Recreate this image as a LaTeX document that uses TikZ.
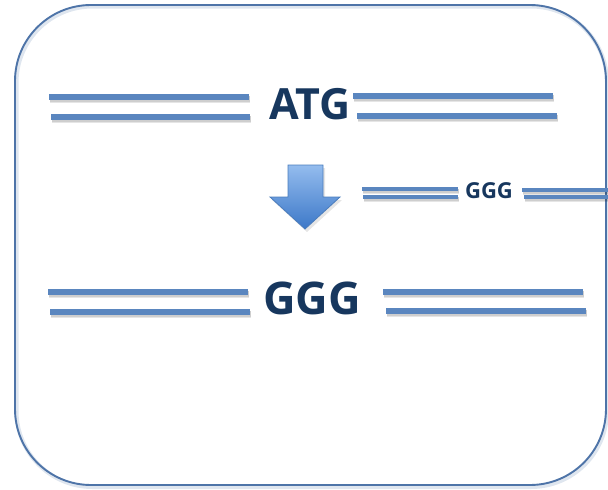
\documentclass[tikz,border=0pt]{standalone}
\usepackage{fontspec}
\setmainfont{Open Sans}

\definecolor{strand}{HTML}{5A86BF}
\definecolor{framecol}{HTML}{4E74A8}
\definecolor{basecol}{HTML}{17375E}
\definecolor{arrowtop}{HTML}{94BCEE}
\definecolor{arrowbot}{HTML}{3C78C8}
\definecolor{arrowedge}{HTML}{4A7CBC}

\tikzset{
  strandline/.style={line width=#1, draw=strand},
  strandshade/.style={line width=#1, draw=black, opacity=0.10},
  basetext/.style={inner sep=0pt, text=basecol, font=\bfseries\fontsize{#1}{#1}\selectfont},
}

% one strand of the double line, with its soft drop shadow
\newcommand\dnastrand[4]{%
  \draw[strandshade=#4+1.5pt] (#1+1,#3+2.5) -- (#2+1,#3+2.5);
  \draw[strandshade=#4] (#1+1,#3+2) -- (#2+1,#3+2);
  \draw[strandline=#4] (#1,#3) -- (#2,#3);
}

\begin{document}
\begin{tikzpicture}[x=1pt,y=-1pt]
  \useasboundingbox (0,0) rectangle (608,490);

  % outer rounded frame with a faint halo
  \draw[framecol!18, line width=4pt, rounded corners=76pt] (16.5,6.5) rectangle (607,487);
  \draw[framecol, line width=1.9pt, rounded corners=76pt] (15,5) rectangle (606,485);

  % original codon
  \node[basetext=43] (atg) at (310,104) {ATG};
  \dnastrand{49}{249}{97}{5.5pt}
  \dnastrand{51}{250}{117}{5.5pt}
  \dnastrand{353}{553}{96}{5.5pt}
  \dnastrand{357}{557}{116}{5.5pt}

  % replacement strand coming in from the side
  \node[basetext=22] (gggin) at (489,191) {GGG};
  \dnastrand{362}{458}{189}{3.4pt}
  \dnastrand{363}{458}{197}{3.4pt}
  \dnastrand{522}{610}{190}{3.4pt}
  \dnastrand{524}{610}{197}{3.4pt}

  % downward block arrow
  \fill[black, opacity=0.10] (290,168) -- (325,168) -- (325,200) -- (342,200) -- (307,232) -- (272,200) -- (290,200) -- cycle;
  \draw[arrowedge, line width=0.8pt, top color=arrowtop, bottom color=arrowbot]
    (288,165) -- (323,165) -- (323,197) -- (340,197) -- (305,229) -- (270,197) -- (288,197) -- cycle;

  % edited codon
  \node[basetext=45] (gggout) at (312,298) {GGG};
  \dnastrand{48}{248}{292}{5.5pt}
  \dnastrand{50}{250}{312}{5.5pt}
  \dnastrand{383}{583}{292}{5.5pt}
  \dnastrand{386}{586}{311}{5.5pt}
\end{tikzpicture}
\end{document}
